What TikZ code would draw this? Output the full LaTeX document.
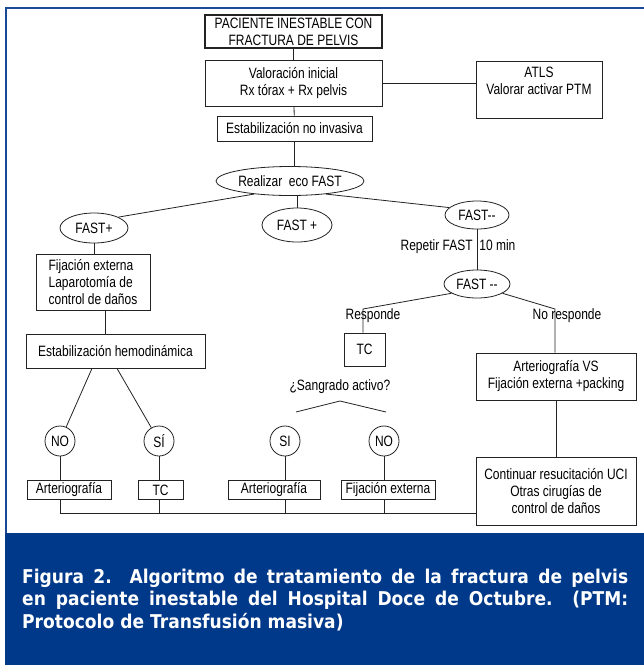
\documentclass[tikz,border=0pt]{standalone}
\usepackage{fontspec}
\usepackage{tikz}
\usepackage{xcolor}
\usetikzlibrary{shapes.geometric, calc}
\setmainfont{Liberation Sans}[FakeStretch=0.8]
\newfontfamily\captionfont{DejaVu Sans}[FakeStretch=0.9]
\newcommand{\diagfont}{\fontsize{15}{17}\selectfont}
\definecolor{framecolor}{RGB}{28, 72, 152}
\definecolor{capcolor}{RGB}{0, 56, 138}
\definecolor{linecolor}{RGB}{35, 35, 35}

\begin{document}
\begin{tikzpicture}[x=1pt, y=-1pt,
    box/.style={draw=linecolor, line width=0.8pt, align=center, inner sep=1pt, font=\diagfont},
    oval/.style={draw=linecolor, line width=0.8pt, ellipse, inner sep=0pt, font=\diagfont},
    yesno/.style={draw=linecolor, line width=0.8pt, circle, minimum size=30, inner sep=0pt, font=\diagfont},
    lbl/.style={inner sep=1pt, font=\diagfont},
    link/.style={draw=linecolor, line width=0.8pt},
    captext/.style={text=white, align=left, inner sep=0pt, font=\captionfont\bfseries\fontsize{19}{22.5}\selectfont}]
\useasboundingbox (0,0) rectangle (644,665);
\fill[white] (0,0) rectangle (644,665);
\draw[framecolor, line width=2pt] (6,533) -- (6,8) -- (644,8);
\fill[capcolor] (5,533) rectangle (644,665);

\node[box, line width=1.6pt, minimum width=177, minimum height=33] (paciente) at (293.5,31.5) {PACIENTE INESTABLE CON\\FRACTURA DE PELVIS};
\node[box, minimum width=177, minimum height=46] (valoracion) at (293.5,83) {Valoración inicial\\Rx tórax + Rx pelvis};
\node[box, minimum width=126, minimum height=57] (atls) at (539,89.5) {ATLS\\Valorar activar PTM\\\mbox{}};
\node[box, minimum width=155, minimum height=25] (noinvasiva) at (294.5,128.5) {Estabilización no invasiva};
\node[oval, minimum width=148, minimum height=29] (eco) at (290,181) {Realizar~ eco FAST};
\node[oval, minimum width=68, minimum height=30] (fastpos) at (94,228) {FAST+};
\node[oval, minimum width=70, minimum height=34] (fastposb) at (297,225) {FAST +};
\node[oval, minimum width=64, minimum height=28] (fastneg) at (477,215) {FAST-{}-};
\node[lbl] (repetir) at (458,247) {Repetir FAST~ 10 min};
\node[oval, minimum width=66, minimum height=28] (fastnegb) at (477,284) {FAST -{}-};
\node[lbl] (responde) at (373,316) {Responde};
\node[lbl] (noresponde) at (567,316) {No responde};
\node[box, align=left, minimum width=114, minimum height=56] (fijacion) at (93,282) {Fijación externa\\Laparotomía de\\control de daños};
\node[box, minimum width=179, minimum height=34] (hemo) at (115.5,351) {Estabilización hemodinámica};
\node[box, minimum width=41, minimum height=33] (tc) at (364.5,349.5) {TC};
\node[box, minimum width=160, minimum height=47] (vs) at (556,376.5) {Arteriografía VS\\Fijación externa +packing};
\node[lbl] (sangrado) at (340,387) {¿Sangrado activo?};
\coordinate (sangL) at (296,412);
\coordinate (sangT) at (340,401);
\coordinate (sangR) at (386,412);
\coordinate (respL) at (363,309);
\coordinate (nrespR) at (555,309);
\coordinate (fixdown) at ($(fijacion.south)+(12,0)$);

\node[yesno] (no1) at (60,441) {NO};
\node[yesno] (si1) at (159,441) {SÍ};
\node[yesno] (si2) at (285,441) {SI};
\node[yesno] (no2) at (384,441) {NO};

\node[box, minimum width=84, minimum height=19] (arterio1) at (69,490) {Arteriografía};
\node[box, minimum width=45, minimum height=19] (tcb) at (160.5,490) {TC};
\node[box, minimum width=92, minimum height=19] (arterio2) at (274,490) {Arteriografía};
\node[box, minimum width=94, minimum height=19] (fijext) at (388,490) {Fijación externa};
\node[box, minimum width=160, minimum height=68] (uci) at (556,491) {Continuar resucitación UCI\\Otras cirugías de\\control de daños};
\coordinate (bus) at (476,513);

\draw[link] (paciente) -- (valoracion);
\draw[link] (valoracion.east) -- (valoracion.east -| atls.west);
\draw[link] (valoracion) -- (noinvasiva);
\draw[link] (noinvasiva.south) -- (noinvasiva.south |- eco.north);
\draw[link] (eco.200) -- (fastpos.north east);
\draw[link] (fastposb.north |- eco.south) -- (fastposb.north);
\draw[link] (eco.340) -- (fastneg.165);
\draw[link] (fastneg) -- (fastnegb);
\draw[link] (fastnegb.200) -- (respL) -- (respL |- tc.north);
\draw[link] (fastnegb.340) -- (nrespR) -- (nrespR |- vs.north);
\draw[link] (fastpos) -- (fastpos |- fijacion.north);
\draw[link] (fixdown) -- (fixdown |- hemo.north);
\draw[link] ($(hemo.south)+(-23.5,0)$) -- (no1);
\draw[link] ($(hemo.south)+(1.5,0)$) -- (si1);
\draw[link] (vs) -- (uci);
\draw[link] (sangL) -- (sangT) -- (sangR);
\draw[link] (no1) -- (no1 |- arterio1.north);
\draw[link] (si1) -- (si1 |- tcb.north);
\draw[link] (si2) -- (si2 |- arterio2.north);
\draw[link] (no2) -- (no2 |- fijext.north);
\draw[link] (no1 |- arterio1.south) |- (bus);
\draw[link] (si1 |- tcb.south) -- (si1 |- bus);
\draw[link] (si2 |- arterio2.south) -- (si2 |- bus);
\draw[link] (no2 |- fijext.south) -- (no2 |- bus);

\node[captext, anchor=base west] (caption) at (22,628) {\makebox[606pt][s]{Figura 2. Algoritmo de tratamiento de la fractura de pelvis}\\\makebox[606pt][s]{en paciente inestable del Hospital Doce de Octubre. (PTM:}\\Protocolo de Transfusión masiva)};
\end{tikzpicture}
\end{document}
